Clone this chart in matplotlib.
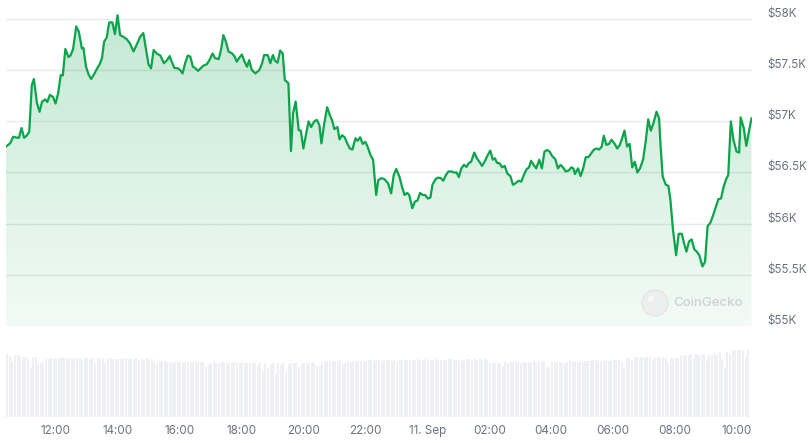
import numpy as np
import pandas as pd
import matplotlib
matplotlib.use("Agg")
import matplotlib.pyplot as plt
import matplotlib.dates as mdates
import matplotlib.transforms as mtransforms
from matplotlib.colors import to_rgb
from matplotlib.patches import Ellipse

plt.rcParams["font.family"] = ["Inter", "DejaVu Sans"]

START = pd.Timestamp("2024-09-10 10:24")
END = START + pd.Timedelta(minutes=1445)

# BTC price, minutes after START -> USD
price_minutes = [
    0, 8, 14, 22, 25, 30, 35, 40, 45, 50, 54, 60, 65, 70, 76, 80, 85, 91, 96, 101,
    106, 110, 115, 121, 125, 130, 136, 141, 147, 150, 155, 160, 165, 171, 176, 181, 186, 190, 195, 200,
    206, 211, 216, 221, 227, 234, 240,
    247, 253, 260, 266, 271, 276, 281, 286, 292, 299, 306, 312, 317, 321, 326, 333, 337, 342, 347, 352,
    357, 362, 366, 372, 377, 382, 389, 394, 400, 405, 412, 417, 421, 426, 431, 438, 443, 447, 452, 457,
    462, 467, 471, 476, 483,
    491, 496, 500, 507, 512, 517, 521, 526, 531, 536, 540, 547, 552, 556, 561, 567, 571, 576, 581, 586,
    591, 597, 602, 607, 611, 616, 622, 627, 632, 636, 642, 646, 651, 656, 661, 666, 671, 677, 681, 686,
    691, 696, 700, 706, 711, 717,
    721, 727, 733, 740, 746, 751, 756, 762, 767, 772, 777, 781, 787, 792, 797, 802, 807, 812, 817, 822,
    826, 832, 837, 842, 847, 852, 857, 863, 868, 873, 877, 882, 887, 892, 896, 901, 907, 912, 917, 922,
    927, 932, 938, 943, 947, 951, 956, 961, 966,
    971, 977, 982, 987, 993, 998, 1003, 1008, 1013, 1017, 1022, 1027, 1033, 1038, 1043, 1048, 1053, 1058, 1064, 1069,
    1074, 1079, 1084, 1090, 1095, 1099, 1102, 1108, 1113, 1118, 1123, 1128, 1134, 1139, 1144, 1149, 1154, 1158, 1163, 1168,
    1173, 1179, 1184, 1189, 1194, 1198, 1203, 1208,
    1213, 1218, 1223, 1228, 1234, 1239, 1244, 1249, 1254, 1260, 1265, 1268, 1272, 1278, 1283, 1287, 1292, 1298, 1303, 1309,
    1313, 1318, 1323, 1328, 1333, 1338, 1343, 1349, 1354, 1359, 1364, 1369, 1374, 1380, 1385, 1390, 1395, 1399, 1404, 1409,
    1415, 1420, 1423, 1429, 1434, 1439, 1444,
]
price_usd = [
    56755, 56785, 56850, 56840, 56840, 56935, 56840, 56860, 56900, 57355, 57415, 57180, 57095, 57195, 57215, 57190, 57260, 57240, 57175, 57275,
    57455, 57450, 57710, 57630, 57645, 57710, 57930, 57880, 57715, 57720, 57535, 57460, 57415, 57465, 57515, 57555, 57620, 57780, 57820, 57970,
    57970, 57855, 58040, 57845, 57830, 57805, 57765,
    57685, 57750, 57830, 57865, 57715, 57560, 57520, 57700, 57665, 57645, 57570, 57600, 57640, 57585, 57525, 57520, 57505, 57470, 57570, 57645,
    57635, 57535, 57525, 57495, 57520, 57545, 57560, 57600, 57665, 57620, 57610, 57715, 57845, 57780, 57685, 57665, 57635, 57585, 57625, 57655,
    57585, 57535, 57600, 57505, 57470,
    57505, 57570, 57650, 57650, 57570, 57650, 57595, 57575, 57695, 57665, 57405, 57375, 56710, 57080, 57195, 56915, 56910, 56735, 56865, 57000,
    56945, 57000, 57015, 56965, 56785, 56965, 57140, 57065, 57005, 56925, 56945, 56825, 56865, 56845, 56785, 56735, 56725, 56835, 56810, 56845,
    56780, 56800, 56760, 56670, 56625, 56280,
    56425, 56445, 56435, 56395, 56295, 56475, 56535, 56460, 56360, 56280, 56300, 56280, 56150, 56215, 56225, 56300, 56280, 56280, 56245, 56255,
    56380, 56435, 56450, 56445, 56420, 56475, 56510, 56510, 56500, 56500, 56455, 56540, 56575, 56555, 56590, 56605, 56695, 56640, 56605, 56565,
    56605, 56660, 56715, 56625, 56640, 56595, 56590, 56550, 56565,
    56490, 56465, 56380, 56395, 56420, 56410, 56475, 56530, 56550, 56615, 56575, 56540, 56625, 56540, 56705, 56720, 56705, 56660, 56630, 56540,
    56575, 56550, 56510, 56520, 56550, 56540, 56485, 56540, 56465, 56540, 56650, 56650, 56690, 56725, 56735, 56725, 56755, 56860, 56770, 56780,
    56820, 56780, 56735, 56770, 56845, 56910, 56755, 56780,
    56550, 56605, 56500, 56540, 56625, 56800, 57020, 56910, 56980, 57095, 57030, 56755, 56460, 56380, 56370, 56230, 55935, 55690, 55900, 55900,
    55815, 55725, 55825, 55845, 55750, 55725, 55690, 55580, 55625, 55975, 56005, 56070, 56150, 56240, 56245, 56360, 56435, 56475, 57000, 56820,
    56705, 56695, 57040, 56935, 56760, 56900, 57030,
]

# 24h volume per 5-minute bar, billions USD (one row per hour)
volume_bn = [
    32.7, 31.8, 29.2, 32.2, 32.2, 31.3, 31.0, 31.3, 30.4, 25.2, 31.3, 31.3,
    27.5, 28.2, 28.7, 29.9, 29.9, 30.4, 29.9, 30.4, 30.4, 30.4, 30.4, 30.4,
    29.9, 30.4, 30.8, 30.4, 30.8, 29.9, 30.4, 30.8, 29.9, 30.8, 28.2, 30.4,
    29.9, 30.4, 28.2, 30.4, 30.4, 29.9, 29.9, 29.9, 29.9, 29.9, 30.4, 29.9,
    29.9, 29.6, 30.4, 29.6, 29.9, 29.6, 30.4, 29.9, 29.9, 28.7, 28.2, 29.2,
    29.2, 29.2, 28.7, 28.7, 28.2, 28.7, 29.2, 28.7, 28.7, 28.7, 28.7, 28.7,
    28.7, 28.7, 28.7, 28.7, 28.7, 26.4, 26.9, 28.2, 28.7, 28.2, 28.2, 28.7,
    28.7, 28.2, 28.2, 28.2, 28.7, 28.2, 28.2, 28.7, 28.2, 28.2, 28.2, 27.8,
    27.8, 26.4, 27.8, 24.0, 27.8, 25.2, 27.5, 27.8, 22.6, 27.8, 26.9, 27.8,
    23.0, 27.5, 27.8, 28.2, 27.8, 26.1, 27.5, 28.2, 27.8, 28.2, 28.7, 27.8,
    26.4, 26.4, 28.7, 29.2, 29.2, 28.7, 29.2, 29.2, 29.2, 29.6, 27.5, 27.8,
    28.7, 28.7, 29.2, 28.7, 29.2, 29.2, 29.2, 29.2, 29.6, 29.6, 29.2, 29.6,
    29.6, 29.2, 29.6, 29.6, 29.6, 29.2, 29.6, 29.2, 29.6, 29.6, 29.6, 29.6,
    29.6, 29.6, 29.6, 29.9, 29.6, 29.6, 29.9, 29.6, 29.6, 29.6, 29.9, 29.6,
    29.6, 29.6, 29.6, 29.9, 29.9, 29.6, 29.6, 29.2, 29.6, 29.9, 29.9, 29.9,
    29.6, 29.9, 29.6, 29.9, 29.6, 29.9, 29.6, 28.2, 28.2, 27.8, 28.2, 27.5,
    26.4, 28.7, 27.8, 28.7, 28.7, 28.7, 28.7, 28.2, 28.7, 28.7, 28.7, 28.7,
    29.2, 28.7, 28.7, 28.7, 29.2, 26.1, 26.1, 28.7, 29.2, 28.7, 28.7, 28.2,
    27.8, 28.7, 29.2, 28.7, 29.2, 28.2, 29.2, 28.7, 29.2, 29.2, 29.2, 29.6,
    29.6, 29.2, 29.2, 29.2, 29.6, 29.2, 29.2, 29.6, 29.6, 29.6, 28.7, 25.6,
    30.4, 30.4, 29.6, 31.0, 31.0, 30.8, 31.0, 31.0, 31.0, 31.0, 29.6, 30.4,
    31.0, 30.4, 30.4, 30.4, 28.2, 30.4, 29.9, 30.4, 30.8, 32.2, 32.2, 32.2,
    32.2, 32.2, 30.8, 32.7, 32.2, 32.2, 32.7, 29.2, 32.2, 32.2, 32.7, 32.2,
    33.0, 30.4, 25.6, 33.5, 32.7, 34.4, 34.8, 34.8, 35.3, 34.4, 30.9, 35.3,
]

price_ticks = [55000, 55500, 56000, 56500, 57000, 57500, 58000]
price_tick_labels = ["$55K", "$55.5K", "$56K", "$56.5K", "$57K", "$57.5K", "$58K"]
time_ticks = pd.date_range("2024-09-10 12:00", "2024-09-11 10:00", freq="2h")

LINE = "#0aa44a"
GRID = "#e8eaed"
TEXT = "#6b7280"
VOL = "#eef0f3"
W, H = 809, 443


def px_box(left, top, right, bottom):
    # axes rectangle given in pixel edges of the 809x443 canvas
    return [left / W, 1 - bottom / H, (right - left) / W, (bottom - top) / H]


def time_label(t):
    if t.hour == 0 and t.minute == 0:
        return f"{t.day}. {t:%b}"
    return f"{t:%H:%M}"


def main():
    fig = plt.figure(figsize=(W / 100, H / 100), dpi=100)
    xmin, xmax = mdates.date2num(START), mdates.date2num(END)
    ylo, yhi = 55000, 58091

    ax = fig.add_axes(px_box(6, 10, 752, 325.7))
    x = mdates.date2num(START + pd.to_timedelta(price_minutes, unit="min"))
    y = np.array(price_usd)

    # green area under the line, fading out towards the bottom
    area = ax.fill_between(x, y, ylo, facecolor="none", edgecolor="none")
    grad = np.zeros((256, 1, 4))
    grad[..., :3] = to_rgb(LINE)
    grad[..., 3] = np.linspace(0.25, 0.05, 256)[:, None]
    im = ax.imshow(grad, extent=[xmin, xmax, ylo, yhi], aspect="auto", origin="upper", zorder=1)
    im.set_clip_path(area.get_paths()[0], transform=ax.transData)

    ax.plot(x, y, color=LINE, lw=1.6, zorder=3, solid_joinstyle="round")
    ax.set_xlim(xmin, xmax)
    ax.set_ylim(ylo, yhi)
    ax.set_yticks(price_ticks)
    ax.yaxis.grid(True, color=GRID, lw=1)
    ax.set_axisbelow(True)
    ax.tick_params(left=False, labelleft=False, bottom=False, labelbottom=False)
    for s in ax.spines.values():
        s.set_visible(False)

    lab_tr = mtransforms.offset_copy(
        mtransforms.blended_transform_factory(ax.transAxes, ax.transData), fig=fig, x=15, y=5, units="dots")
    for v, lab in zip(price_ticks, price_tick_labels):
        ax.text(1, v, lab, transform=lab_tr, ha="left", va="center", color=TEXT, fontsize=8.4, clip_on=False)

    # watermark
    fig.patches.append(Ellipse((655 / W, 1 - 303 / H), 26 / W, 26 / H, transform=fig.transFigure,
                               facecolor="#ededed", edgecolor="#e2e2e2", lw=1, alpha=0.8, zorder=5))
    fig.patches.append(Ellipse((651 / W, 1 - 299 / H), 6 / W, 6 / H, transform=fig.transFigure,
                               facecolor="#fafafa", edgecolor="none", alpha=0.9, zorder=6))
    fig.text(673 / W, 1 - 303 / H, "CoinGecko", color="#cdd0d4", fontsize=9.5, fontweight="medium",
             va="center", ha="left", zorder=6)

    # volume pane
    axv = fig.add_axes(px_box(6, 340, 752, 416.7))
    bar_times = pd.date_range(START + pd.Timedelta(minutes=2.5), periods=len(volume_bn), freq="5min")
    axv.bar(mdates.date2num(bar_times), volume_bn, width=3.9 / 1440, color=VOL, linewidth=0)
    axv.set_xlim(xmin, xmax)
    axv.set_ylim(0, 40)
    axv.set_yticks([])
    axv.set_xticks(mdates.date2num(time_ticks))
    axv.set_xticklabels([time_label(t) for t in time_ticks])
    axv.tick_params(axis="x", length=0, pad=6, labelsize=8.4, labelcolor=TEXT)
    for s in axv.spines.values():
        s.set_visible(False)

    fig.savefig("out.png", dpi=100)
    plt.close(fig)


if __name__ == "__main__":
    main()
